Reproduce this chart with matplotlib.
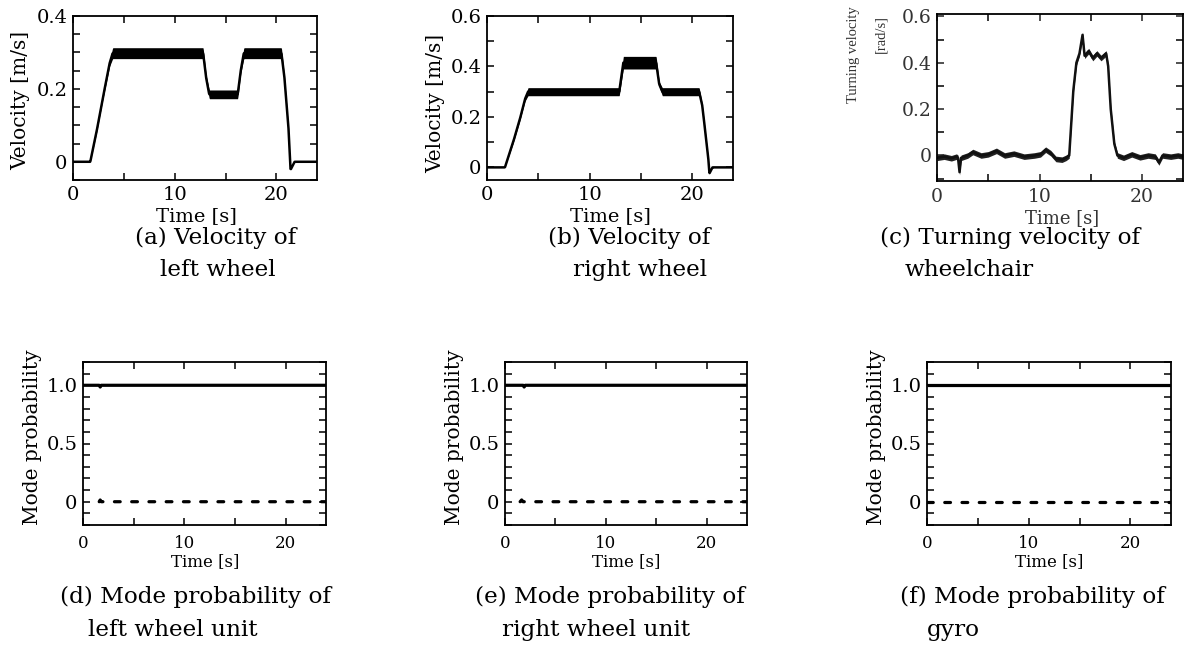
import matplotlib.pyplot as plt
import numpy as np
from matplotlib.ticker import MultipleLocator, FuncFormatter

# (a) left wheel velocity: centre line and half-width of the noise band [m/s]
T_A = [0, 1.7, 2.3, 2.9, 3.6, 3.9, 12.8, 13.1, 13.4, 16.2, 16.5, 16.8,
       20.5, 20.8, 21.2, 21.4, 21.8, 24]
V_A = [0, 0, 0.08, 0.17, 0.27, 0.298, 0.298, 0.23, 0.185, 0.185, 0.25, 0.298,
       0.298, 0.23, 0.09, -0.022, 0, 0]
N_A = [0, 0, 0.003, 0.004, 0.008, 0.015, 0.015, 0.008, 0.012, 0.012, 0.008, 0.015,
       0.015, 0.004, 0.003, 0, 0, 0]

# (b) right wheel velocity [m/s]
T_B = [0, 1.75, 2.55, 3.2, 3.7, 4.0, 12.9, 13.3, 16.5, 16.8, 17.1, 20.7,
       21.0, 21.3, 21.6, 21.7, 22.0, 24]
V_B = [0, 0, 0.10, 0.19, 0.27, 0.30, 0.30, 0.415, 0.415, 0.33, 0.30, 0.30,
       0.245, 0.14, 0.03, -0.024, 0, 0]
N_B = [0, 0, 0.004, 0.005, 0.008, 0.016, 0.016, 0.025, 0.025, 0.01, 0.016, 0.016,
       0.006, 0.004, 0.003, 0, 0, 0]

# (c) turning velocity of the wheelchair [rad/s]
T_C = [0, 0.7, 1.4, 1.9, 2.05, 2.2, 2.35, 3.0, 3.5, 4.3, 5.0, 5.8, 6.6, 7.5,
       8.5, 9.5, 10.1, 10.6, 11.1, 11.6, 12.2, 12.6, 12.9, 13.3, 13.6, 13.9,
       14.2, 14.4, 14.8, 15.2, 15.6, 16.0, 16.5, 16.7, 16.95, 17.3, 17.6, 18.2,
       19.0, 19.8, 20.6, 21.3, 21.65, 22.0, 22.8, 23.5, 24]
V_C = [-0.01, -0.005, -0.012, -0.005, -0.01, -0.072, -0.01, 0.0, 0.015, 0.0,
       0.005, 0.02, 0.0, 0.008, -0.005, 0.0, 0.005, 0.025, 0.01, -0.015,
       -0.018, -0.01, 0.0, 0.28, 0.40, 0.44, 0.52, 0.43, 0.45, 0.42, 0.44,
       0.42, 0.44, 0.385, 0.20, 0.05, 0.0, -0.01, 0.005, -0.008, 0.0, -0.005,
       -0.03, 0.0, -0.005, 0.0, -0.005]
N_C = 0.012  # half-width of the noise band around the (c) trace

# (d)-(f) mode probabilities: normal mode (solid) and fault mode (dashed)
T_D_NORMAL = [0, 1.6, 1.7, 1.8, 24]
P_D_NORMAL = [1, 1, 0.985, 1, 1]
T_D_FAULT = [1.6, 1.7, 1.8, 24]
P_D_FAULT = [0, 0.015, 0, 0]

T_E_NORMAL = [0, 1.8, 1.9, 2.0, 24]
P_E_NORMAL = [1, 1, 0.985, 1, 1]
T_E_FAULT = [1.5, 1.65, 1.8, 24]
P_E_FAULT = [0, 0.015, 0, 0]

T_F_NORMAL = [0, 24]
P_F_NORMAL = [1, 1]
T_F_FAULT = [0, 24]
P_F_FAULT = [0, 0]

CAPTIONS = [
    ("(a) Velocity of", "left wheel"),
    ("(b) Velocity of", "right wheel"),
    ("(c) Turning velocity of", "wheelchair"),
    ("(d) Mode probability of", "left wheel unit"),
    ("(e) Mode probability of", "right wheel unit"),
    ("(f) Mode probability of", "gyro"),
]

W, H = 1190, 658
plt.rcParams["font.family"] = ["DejaVu Serif"]


def px(x, y):
    return x / W, 1 - y / H


def make_axes(fig, left, top, right, bottom):
    x0, y1 = px(left, top)
    x1, y0 = px(right, bottom)
    return fig.add_axes([x0, y0, x1 - x0, y1 - y0])


def fmt(v, _):
    return "0" if abs(v) < 1e-9 else f"{v:.1f}"


def style(ax, ylim, ymajor, yminor, size):
    ax.set_xlim(0, 24)
    ax.set_ylim(*ylim)
    ax.xaxis.set_major_locator(MultipleLocator(10))
    ax.xaxis.set_minor_locator(MultipleLocator(5))
    ax.yaxis.set_major_locator(MultipleLocator(ymajor))
    ax.yaxis.set_minor_locator(MultipleLocator(yminor))
    ax.yaxis.set_major_formatter(FuncFormatter(fmt))
    for which in ("major", "minor"):
        ax.tick_params(which=which, direction="in", top=True, right=True,
                       length=5, width=1.1)
    ax.tick_params(axis="y", labelsize=size, pad=4)
    for s in ax.spines.values():
        s.set_linewidth(1.3)


fig = plt.figure(figsize=(W / 100, H / 100), dpi=100)
tt = np.linspace(0, 24, 600)

# top row
ax_a = make_axes(fig, 73, 16, 317, 180)
style(ax_a, (-0.05, 0.4), 0.2, 0.05, 14)
ax_a.tick_params(axis="x", labelsize=14, pad=4)
va = np.interp(tt, T_A, V_A)
na = np.interp(tt, T_A, N_A)
ax_a.fill_between(tt, va - na, va + na, color="black", lw=0)
ax_a.plot(tt, va, color="black", lw=1.8)

ax_b = make_axes(fig, 487, 16, 733, 180)
style(ax_b, (-0.05, 0.6), 0.2, 0.1, 14)
ax_b.tick_params(axis="x", labelsize=14, pad=4)
vb = np.interp(tt, T_B, V_B)
nb = np.interp(tt, T_B, N_B)
ax_b.fill_between(tt, vb - nb, vb + nb, color="black", lw=0)
ax_b.plot(tt, vb, color="black", lw=1.8)

ax_c = make_axes(fig, 937, 14, 1183, 181)
style(ax_c, (-0.11, 0.61), 0.2, 0.1, 13.5)
ax_c.tick_params(axis="x", labelsize=13.5, pad=5)
ax_c.tick_params(colors="#222222", labelcolor="#333333")
vc = np.array(V_C)
ax_c.fill_between(T_C, vc - N_C, vc + N_C, color="#222222", lw=0)
ax_c.plot(T_C, V_C, color="#111111", lw=1.8)

fig.text(*px(21, 100), "Velocity [m/s]", rotation=90, ha="center",
         va="center", fontsize=14.5)
fig.text(*px(196, 216), "Time [s]", ha="center", va="center", fontsize=14)
fig.text(*px(436, 103), "Velocity [m/s]", rotation=90, ha="center",
         va="center", fontsize=14.5)
fig.text(*px(610, 216), "Time [s]", ha="center", va="center", fontsize=14)
fig.text(*px(853, 55), "Turning velocity", rotation=90, ha="center",
         va="center", fontsize=10.5, color="#333333",
         family=["Liberation Serif", "DejaVu Serif"])
fig.text(*px(881, 34), "[rad/s]", rotation=90, ha="center", va="center",
         fontsize=10.5, color="#333333",
         family=["Liberation Serif", "DejaVu Serif"])
fig.text(*px(1062, 218), "Time [s]", ha="center", va="center", fontsize=13,
         color="#333333")

# bottom row
bottom = [
    ((83, 362, 326, 525), T_D_NORMAL, P_D_NORMAL, T_D_FAULT, P_D_FAULT, 33, 205),
    ((505, 362, 747, 525), T_E_NORMAL, P_E_NORMAL, T_E_FAULT, P_E_FAULT, 455, 626),
    ((927, 362, 1171, 525), T_F_NORMAL, P_F_NORMAL, T_F_FAULT, P_F_FAULT, 877, 1049),
]
for box, tn, pn, tf, pf, ylab_x, xlab_x in bottom:
    ax = make_axes(fig, *box)
    style(ax, (-0.2, 1.2), 0.5, 0.1, 14)
    ax.tick_params(axis="x", labelsize=12, pad=7)
    ax.plot(tn, pn, color="black", lw=2.3, solid_capstyle="butt")
    ax.plot(tf, pf, color="black", lw=2.3, dashes=(1.8, 3.6),
            dash_capstyle="round")
    fig.text(*px(ylab_x, 437), "Mode probability", rotation=90, ha="center",
             va="center", fontsize=14.5)
    fig.text(*px(xlab_x, 562), "Time [s]", ha="center", va="center",
             fontsize=12)

# captions with hanging indent
caption_pos = [(135, 160, 238, 270), (548, 573, 238, 270), (880, 905, 238, 270),
               (60, 88, 597, 630), (475, 502, 597, 630), (900, 927, 597, 630)]
for (line1, line2), (x1, x2, y1, y2) in zip(CAPTIONS, caption_pos):
    fig.text(*px(x1, y1), line1, ha="left", va="center", fontsize=16.7)
    fig.text(*px(x2, y2), line2, ha="left", va="center", fontsize=16.7)

fig.savefig("out.png", dpi=100)
